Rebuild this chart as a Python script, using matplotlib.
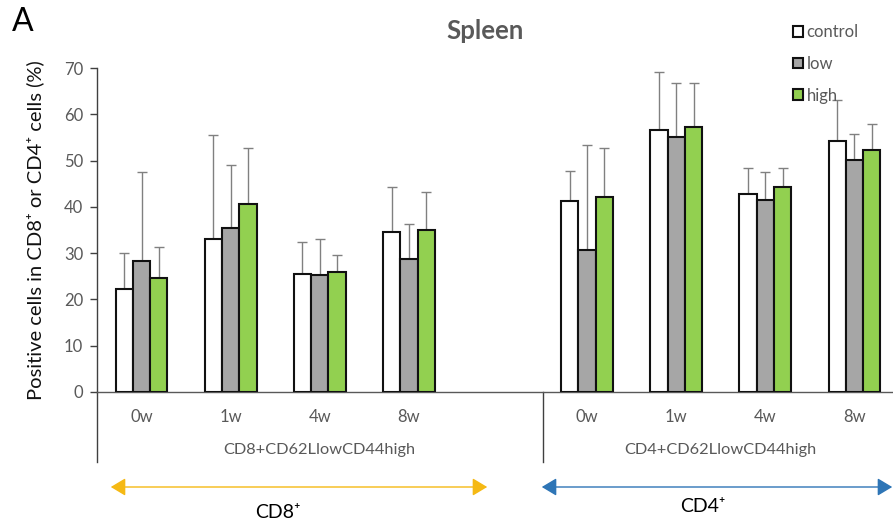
import matplotlib
matplotlib.use("Agg")
import matplotlib.pyplot as plt
import numpy as np

plt.rcParams['font.family'] = ['Lato', 'DejaVu Sans']

timepoints = ["0w", "1w", "4w", "8w"]
groups = ["CD8+CD62LlowCD44high", "CD4+CD62LlowCD44high"]
series = ["control", "low", "high"]

cd8_control = [22.2, 33.1, 25.4, 34.6]
cd8_low = [28.3, 35.5, 25.2, 28.7]
cd8_high = [24.6, 40.6, 26.0, 34.9]
cd8_control_err = [7.8, 22.4, 7.1, 9.6]
cd8_low_err = [19.2, 13.5, 7.8, 7.5]
cd8_high_err = [6.8, 12.1, 3.6, 8.4]

cd4_control = [41.2, 56.6, 42.7, 54.3]
cd4_low = [30.7, 55.1, 41.4, 50.2]
cd4_high = [42.1, 57.2, 44.2, 52.2]
cd4_control_err = [6.5, 12.5, 5.6, 8.7]
cd4_low_err = [22.6, 11.6, 6.1, 5.6]
cd4_high_err = [10.7, 9.5, 4.1, 5.7]

colors = ["#FFFFFF", "#A6A6A6", "#92D050"]

fig = plt.figure(figsize=(8.93, 5.28), dpi=100)
ax = fig.add_axes([97/893, (528-392)/528, (899-97)/893, 324/528])

# slot positions: 4 CD8 categories + 1 blank, then 4 CD4 categories
pos_cd8 = np.arange(4)
pos_cd4 = np.arange(5, 9)
bw = 0.194
vals = [[cd8_control, cd8_low, cd8_high], [cd4_control, cd4_low, cd4_high]]
errs = [[cd8_control_err, cd8_low_err, cd8_high_err], [cd4_control_err, cd4_low_err, cd4_high_err]]
for gi, pos in enumerate([pos_cd8, pos_cd4]):
    for si in range(3):
        x = pos + (si - 1) * bw
        ax.bar(x, vals[gi][si], width=bw, color=colors[si], edgecolor="#111111",
               linewidth=1.5, zorder=3, label=series[si] if gi == 0 else None)
        ax.errorbar(x, vals[gi][si], yerr=[np.zeros(4), errs[gi][si]], fmt="none",
                    ecolor="#808080", elinewidth=1.0, capsize=3.5, capthick=1.0, zorder=2)

ax.set_xlim(-0.5, 8.5)
ax.set_ylim(0, 70)
ax.set_yticks(np.arange(0, 71, 10))
ax.tick_params(axis='y', labelsize=12, length=5, width=1, direction='out', pad=5, color="#404040")
for lab in ax.get_yticklabels():
    lab.set_color("#595959")
ax.set_xticks([])
for s in ["top", "right"]:
    ax.spines[s].set_visible(False)
ax.spines["left"].set_color("#404040")
ax.spines["bottom"].set_color("#595959")
ax.spines["left"].set_linewidth(1.0)
ax.spines["bottom"].set_linewidth(1.0)

# category labels
trans = ax.get_xaxis_transform()
for pos in [pos_cd8, pos_cd4]:
    for p, t in zip(pos, timepoints):
        ax.text(p, -25/324, t, transform=trans, ha="center", va="center",
                fontsize=12, color="#595959")
ax.text(2.0, -58/324, groups[0], transform=trans, ha="center", va="center",
        fontsize=11.8, color="#595959")
ax.text(6.5, -58/324, groups[1], transform=trans, ha="center", va="center",
        fontsize=11.8, color="#595959")
# left extension and divider
ax.plot([-0.5, -0.5], [0, -70/324], transform=trans, color="#404040", lw=1.0, clip_on=False)
ax.plot([4.5, 4.5], [0, -70/324], transform=trans, color="#404040", lw=1.0, clip_on=False)

ax.set_ylabel("Positive cells in CD8⁺ or CD4⁺ cells (%)", fontsize=14.5, color="#111111", labelpad=14)

fig.text(12/893, 1 - 22/528, "A", fontsize=23, ha="left", va="center", color="black")
fig.text(485/893, 1 - 31/528, "Spleen", fontsize=18.5, fontweight="bold", ha="center", va="center",
         color="#595959")

# legend
leg = fig.legend(loc="upper left", bbox_to_anchor=(778/893, 1 - 9/528), frameon=False,
                 fontsize=12, handlelength=0.62, handleheight=0.62, handletextpad=0.2,
                 labelspacing=0.95)
for txt in leg.get_texts():
    txt.set_color("#595959")

# double arrows
fig.add_artist(matplotlib.patches.FancyArrowPatch(
    (108/893, 1 - 487/528), (490/893, 1 - 487/528), transform=fig.transFigure,
    arrowstyle="<|-|>,head_length=5,head_width=3", color="#F5B914", lw=1.0, mutation_scale=1.8))
fig.add_artist(matplotlib.patches.FancyArrowPatch(
    (539/893, 1 - 487/528), (895/893, 1 - 487/528), transform=fig.transFigure,
    arrowstyle="<|-|>,head_length=5,head_width=3", color="#2E75B6", lw=1.0, mutation_scale=1.8))
fig.text(278/893, 1 - 512/528, "CD8⁺", fontsize=14, ha="center", va="center", color="black")
fig.text(703/893, 1 - 507/528, "CD4⁺", fontsize=14, ha="center", va="center", color="black")

fig.savefig("out.png", dpi=100)
